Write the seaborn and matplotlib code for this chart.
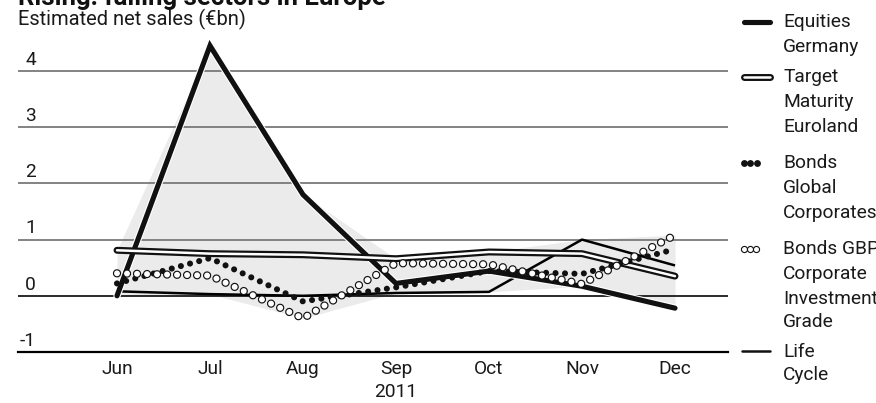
import numpy as np
import pandas as pd
import matplotlib
matplotlib.use("Agg")
import matplotlib.pyplot as plt
import matplotlib.transforms as mtransforms
import matplotlib.patheffects as pe
from matplotlib.lines import Line2D
import seaborn as sns

# ---------------- data ----------------
months = ["Jun", "Jul", "Aug", "Sep", "Oct", "Nov", "Dec"]
year_label = "2011"
equities_germany = [0.00, 4.45, 1.80, 0.22, 0.44, 0.17, -0.22]
target_maturity = [0.81, 0.75, 0.73, 0.66, 0.78, 0.75, 0.35]
bonds_global_corp = [0.22, 0.67, -0.10, 0.15, 0.44, 0.39, 0.83]
bonds_gbp_corp = [0.40, 0.36, -0.40, 0.58, 0.56, 0.21, 1.08]
life_cycle = [0.08, 0.03, 0.00, 0.05, 0.07, 1.00, 0.54]
y_ticks = [-1, 0, 1, 2, 3, 4]
title = "Rising: falling sectors in Europe"
subtitle = "Estimated net sales (\u20acbn)"
legend_labels = [
    ["Equities", "Germany"],
    ["Target", "Maturity", "Euroland"],
    ["Bonds", "Global", "Corporates"],
    ["Bonds GBP", "Corporate", "Investment", "Grade"],
    ["Life", "Cycle"],
]

# ---------------- style ----------------
sns.set_theme(style="white")
plt.rcParams["font.family"] = ["Roboto", "DejaVu Sans"]
plt.rcParams["lines.scale_dashes"] = False

W, H = 876, 403
fig = plt.figure(figsize=(W / 100, H / 100), dpi=100)
fig.patch.set_facecolor("white")
FS = 13.8
TXT = "#1a1a1a"

def fx(px):
    return px / W

def fy(py):
    return 1 - py / H

ax_left, ax_right = 18, 728
ax_bottom_px = 352
ppu = 56.2  # pixels per unit
ymin, ymax = -1, 4.7
ax = fig.add_axes([fx(ax_left), fy(ax_bottom_px), (ax_right - ax_left) / W,
                   (ymax - ymin) * ppu / H])
ax.set_facecolor("none")

x = np.arange(len(months))
ppm = 93.0
jun_px = 117
ax.set_xlim((ax_left - jun_px) / ppm, (ax_right - jun_px) / ppm)
ax.set_ylim(ymin, ymax)

df = pd.DataFrame({
    "x": x,
    "eq": equities_germany,
    "tm": target_maturity,
    "bg": bonds_global_corp,
    "gbp": bonds_gbp_corp,
    "lc": life_cycle,
})

# envelope fill
allv = df[["eq", "tm", "bg", "gbp", "lc"]].to_numpy()
ax.fill_between(x, allv.min(axis=1), allv.max(axis=1), color="#ebebeb", lw=0, zorder=1)

# gridlines
for v in [1, 2, 3, 4]:
    ax.axhline(v, color="#7a7a7a", lw=1.3, zorder=2)
ax.axhline(0, color="#1a1a1a", lw=1.3, zorder=2)

# Life cycle
sns.lineplot(data=df, x="x", y="lc", ax=ax, color="black", linewidth=1.8,
             zorder=3, solid_capstyle="butt")
# Equities
sns.lineplot(data=df, x="x", y="eq", ax=ax, color="#111111", linewidth=3.7,
             zorder=4, solid_capstyle="round", solid_joinstyle="miter",
             path_effects=[pe.Stroke(linewidth=5.3, foreground="white"), pe.Normal()])
# Target maturity (double line)
sns.lineplot(data=df, x="x", y="tm", ax=ax, color="#111111", linewidth=5.0,
             zorder=5, solid_capstyle="round", solid_joinstyle="round")
sns.lineplot(data=df, x="x", y="tm", ax=ax, color="white", linewidth=1.8,
             zorder=5.1, solid_capstyle="round", solid_joinstyle="round")
# Bonds global corporates: filled dots
sns.lineplot(data=df, x="x", y="bg", ax=ax, color="#111111", linewidth=4.4,
             linestyle=(0, (0.01, 6.8)), dash_capstyle="round", zorder=6)
# Bonds GBP: open circles
sns.lineplot(data=df, x="x", y="gbp", ax=ax, color="#111111", linewidth=6.0,
             linestyle=(0, (0.01, 7.2)), dash_capstyle="round", zorder=7)
sns.lineplot(data=df, x="x", y="gbp", ax=ax, color="white", linewidth=4.3,
             linestyle=(0, (0.01, 7.2)), dash_capstyle="round", zorder=7.1)

# axes styling
for s in ["top", "left", "right"]:
    ax.spines[s].set_visible(False)
ax.spines["bottom"].set_color("black")
ax.spines["bottom"].set_linewidth(1.6)
ax.spines["bottom"].set_zorder(8)
ax.set_xlabel("")
ax.set_ylabel("")
ax.set_yticks([])
ax.set_xticks(x)
ax.set_xticklabels(months, fontsize=FS, color=TXT)
ax.tick_params(axis="x", which="major", length=0, pad=6)
ax.set_xticks(np.arange(-0.5, len(months)), minor=True)
ax.tick_params(axis="x", which="minor", direction="in", length=5, width=0.9,
               color="black")
ax.grid(False)

# year label
fig.text(fx(jun_px + 3 * ppm), fy(392), year_label, ha="center", va="center",
         fontsize=FS, color=TXT)

# y labels above gridlines
blend = mtransforms.blended_transform_factory(fig.transFigure, ax.transData)
for v in y_ticks:
    ax.text(fx(36), v + 0.04, str(v), transform=blend, ha="right", va="bottom",
            fontsize=FS, color=TXT)

# title & subtitle
fig.text(fx(18), fy(5), title, fontsize=18.5, fontweight="bold", ha="left",
         va="baseline", color="#111111")
fig.text(fx(18), fy(25), subtitle, fontsize=14.5, ha="left", va="baseline",
         color=TXT)

# ---------------- legend ----------------
lx0, lx1 = 742, 772
tx = 783

def add_line(xs, ys, **kw):
    fig.add_artist(Line2D([fx(v) for v in xs], [fy(v) for v in ys],
                          transform=fig.transFigure, **kw))

# equities
add_line([lx0 + 2, lx1 - 2], [22, 22], color="#111111", lw=3.7, solid_capstyle="round")
# target
add_line([lx0 + 2, lx1 - 2], [77, 77], color="#111111", lw=5.0, solid_capstyle="round")
add_line([lx0 + 2, lx1 - 2], [77, 77], color="white", lw=1.8, solid_capstyle="round")
# bonds global
add_line([743.5, 750, 756.5], [163, 163, 163], color="none", marker="o", markersize=3.9,
         markerfacecolor="#111111", markeredgecolor="#111111", lw=0)
# bonds GBP
add_line([744, 750, 756], [249, 249, 249], color="none", marker="o", markersize=4.4,
         markerfacecolor="white", markeredgecolor="#111111", markeredgewidth=0.8, lw=0)
# life cycle
add_line([lx0, 770], [351, 351], color="#111111", lw=1.8)

legend_y = [[22, 47], [77, 102, 127], [163, 188, 213], [249, 274, 299, 322], [352, 375]]
for labels, ys in zip(legend_labels, legend_y):
    for lab, yy in zip(labels, ys):
        fig.text(fx(tx), fy(yy), lab, fontsize=FS, ha="left", va="center",
                 color=TXT)

fig.savefig("out.png", dpi=100)
